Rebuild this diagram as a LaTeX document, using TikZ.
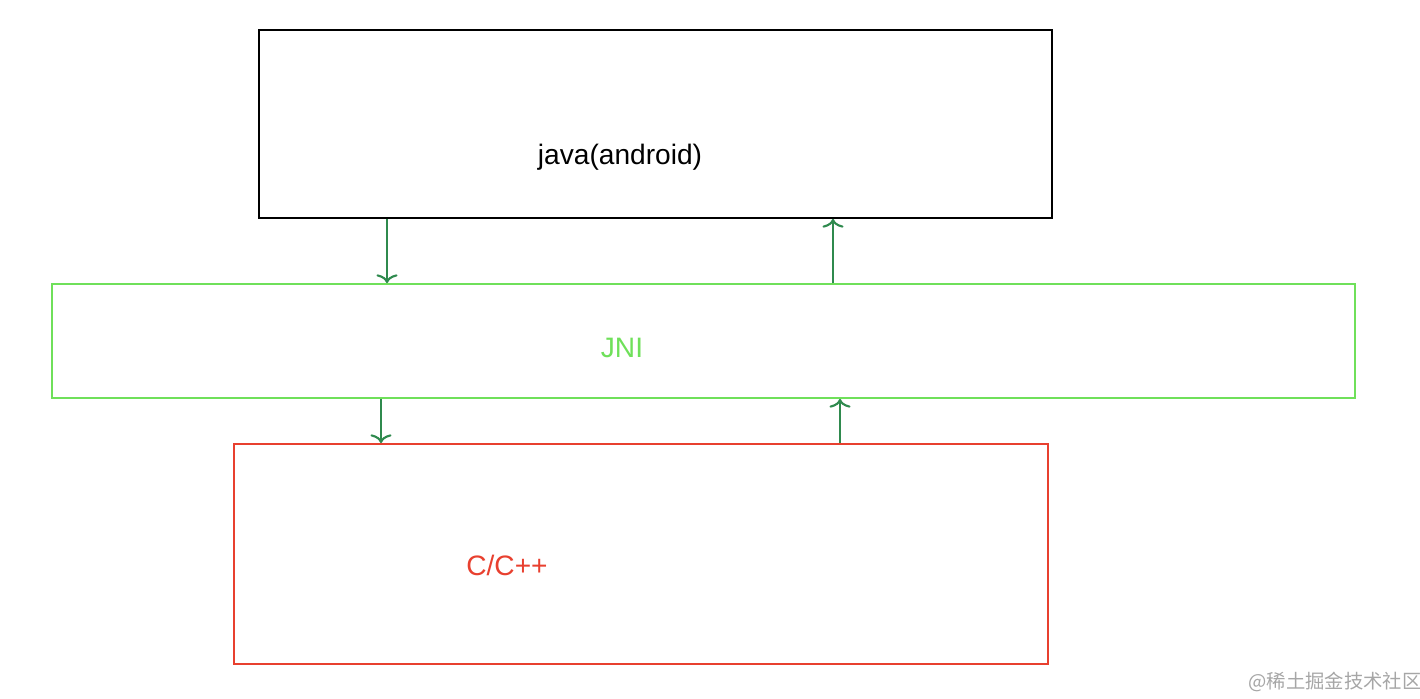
\documentclass[tikz,border=0pt]{standalone}
\usepackage{fontspec}
\setmainfont{Liberation Sans}
\newfontfamily\cjk{Noto Sans CJK SC}
\usetikzlibrary{arrows.meta}
\definecolor{jnigreen}{HTML}{6FE05A}
\definecolor{arrowgreen}{HTML}{2F8A4E}
\definecolor{cred}{HTML}{E8402F}
\tikzset{
    layer/.style = {draw, line width = 1pt, inner sep = 0pt},
    flow/.style = {draw = arrowgreen, line width = 1.2pt, -{To[length = 5pt, width = 12pt]}}
}
\begin{document}
\begin{tikzpicture}
        \useasboundingbox (0, 0) rectangle (28.4, 13.96);

        % Schichten
        \node [layer, minimum width = 15.86cm, minimum height = 3.76cm] (java) at (13.11, 11.48) {};
        \node [layer, draw = jnigreen, minimum width = 26.06cm, minimum height = 2.28cm] (jni) at (14.07, 7.14) {};
        \node [layer, draw = cred, minimum width = 16.28cm, minimum height = 4.4cm] (cpp) at (12.82, 2.88) {};

        % Beschriftungen
        \node [font = \fontsize{16}{19}\selectfont] (javatext) at (12.4, 10.82) {java(android)};
        \node [font = \fontsize{16}{19}\selectfont, text = jnigreen] (jnitext) at (12.44, 7.0) {JNI};
        \node [font = \fontsize{16}{19}\selectfont, text = cred] (cpptext) at (10.14, 2.66) {C/C++};
        \node [font = \cjk\fontsize{11}{13}\selectfont, text = gray!70] (mark) at (26.7, 0.32) {@稀土掘金技术社区};

        % Pfeile
        \coordinate (d1) at (7.74, 0);
        \coordinate (u1) at (16.66, 0);
        \coordinate (d2) at (7.62, 0);
        \coordinate (u2) at (16.8, 0);
        \draw [flow] (java.south -| d1) -- (jni.north -| d1);
        \draw [flow] (jni.north -| u1) -- (java.south -| u1);
        \draw [flow] (jni.south -| d2) -- (cpp.north -| d2);
        \draw [flow] (cpp.north -| u2) -- (jni.south -| u2);
    \end{tikzpicture}
\end{document}
